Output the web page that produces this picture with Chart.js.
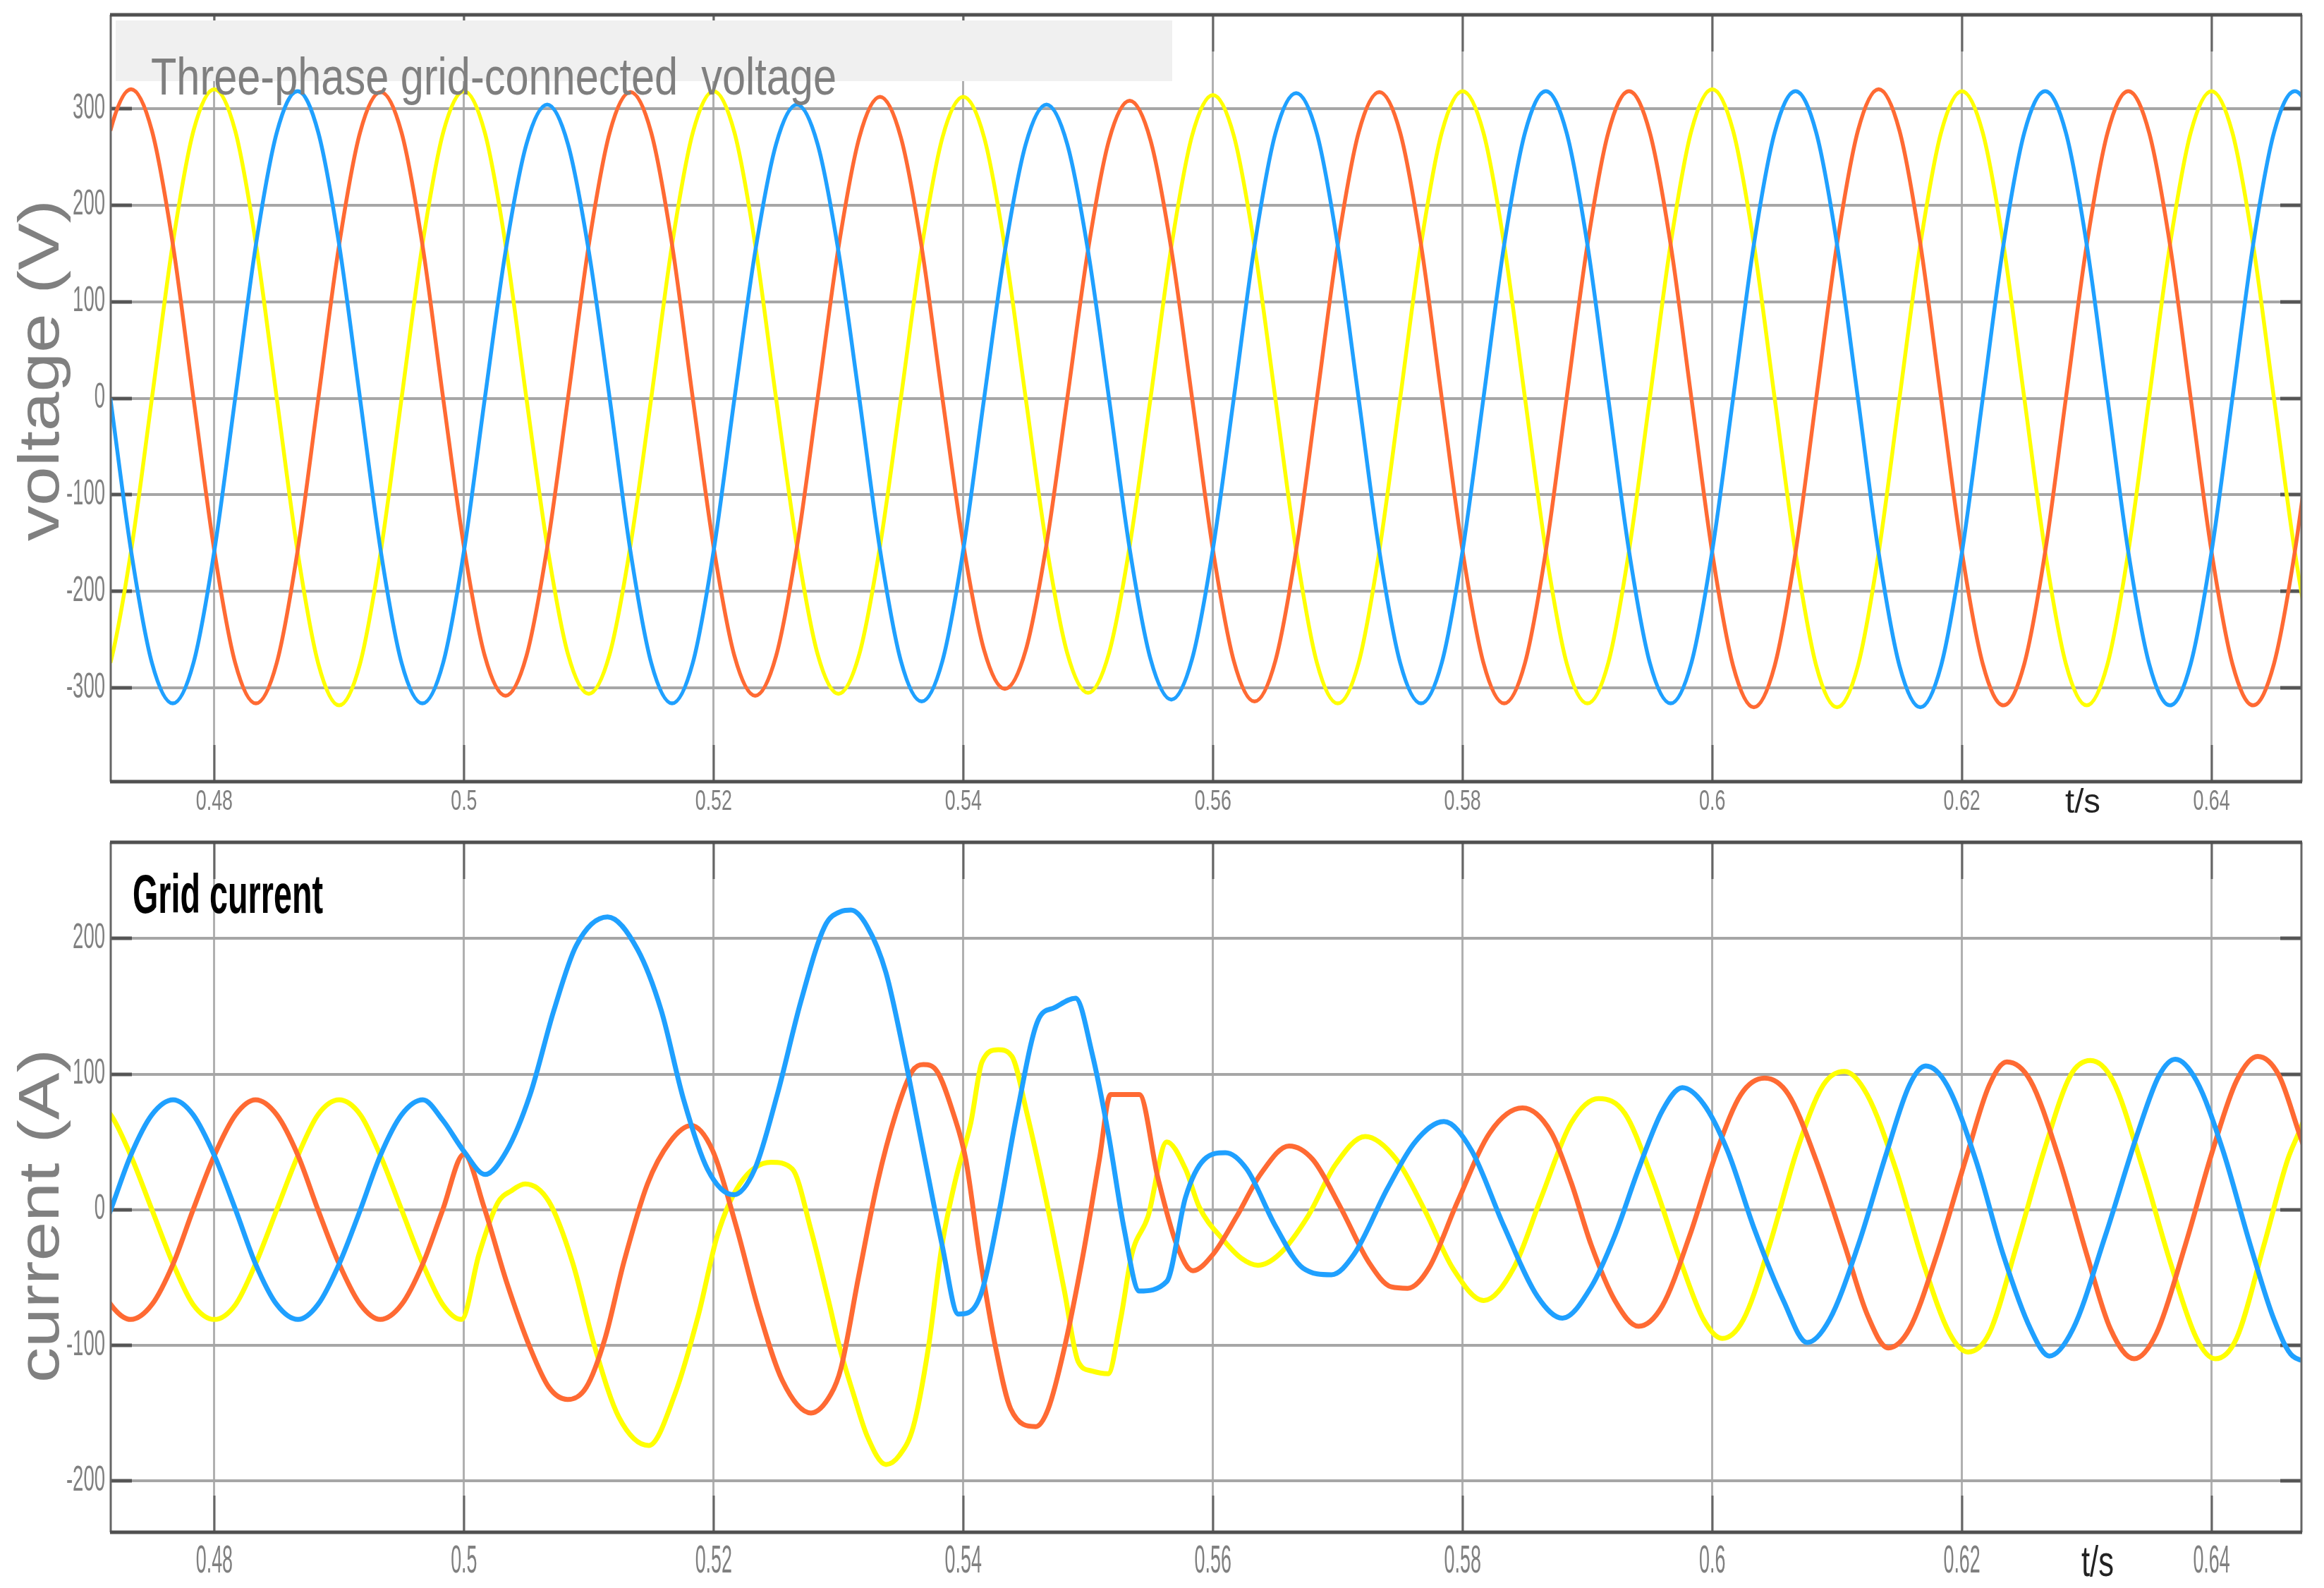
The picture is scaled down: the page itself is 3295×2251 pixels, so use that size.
<!DOCTYPE html>
<html><head><meta charset="utf-8">
<script src="https://cdn.jsdelivr.net/npm/chart.js@4.4.1/dist/chart.umd.min.js"></script>
<style>
html,body{margin:0;padding:0;background:#fff;}
#wrap{position:relative;width:3295px;height:2251px;overflow:hidden;background:#fff;}
canvas{position:absolute;left:0;}
#c1{top:0;}
#c2{top:1190px;}
</style></head><body>
<div id="wrap">
<canvas id="c1" width="3295" height="1190"></canvas>
<canvas id="c2" width="3295" height="1061"></canvas>
</div>
<script>
// ---------- axis ticks ----------
const timeTicks = [0.48,0.5,0.52,0.54,0.56,0.58,0.6,0.62,0.64];
const timeTickLabels = ['0.48','0.5','0.52','0.54','0.56','0.58','0.6','0.62','0.64'];
const voltTicks = [-300,-200,-100,0,100,200,300];
const voltTickLabels = ['-300','-200','-100','0','100','200','300'];
const currTicks = [-200,-100,0,100,200];
const currTickLabels = ['-200','-100','0','100','200'];

// ---------- voltage (V), sample times in s ----------
const voltTime = [
0.47000,0.47167,0.47333,0.47500,0.47667,0.47833,0.48000,0.48167,0.48333,0.48500,0.48667,0.48833,
0.49000,0.49167,0.49333,0.49500,0.49667,0.49833,0.50000,0.50167,0.50333,0.50500,0.50667,0.50833,
0.51000,0.51167,0.51333,0.51500,0.51667,0.51833,0.52000,0.52167,0.52333,0.52500,0.52667,0.52833,
0.53000,0.53167,0.53333,0.53500,0.53667,0.53833,0.54000,0.54167,0.54333,0.54500,0.54667,0.54833,
0.55000,0.55167,0.55333,0.55500,0.55667,0.55833,0.56000,0.56167,0.56333,0.56500,0.56667,0.56833,
0.57000,0.57167,0.57333,0.57500,0.57667,0.57833,0.58000,0.58167,0.58333,0.58500,0.58667,0.58833,
0.59000,0.59167,0.59333,0.59500,0.59667,0.59833,0.60000,0.60167,0.60333,0.60500,0.60667,0.60833,
0.61000,0.61167,0.61333,0.61500,0.61667,0.61833,0.62000,0.62167,0.62333,0.62500,0.62667,0.62833,
0.63000,0.63167,0.63333,0.63500,0.63667,0.63833,0.64000,0.64167,0.64333,0.64500,0.64667,0.64833,
0.65000];
const voltBlue = [
159,0,-158,-274,-316,-274,-158,0,159,275,318,275,
159,0,-158,-274,-316,-274,-158,0,152,263,304,263,
152,0,-158,-274,-316,-274,-158,0,152,263,304,263,
152,0,-157,-272,-314,-272,-157,0,152,263,304,263,
152,0,-156,-270,-312,-270,-156,0,158,274,316,274,
158,0,-158,-274,-316,-274,-158,0,159,275,318,275,
159,0,-158,-274,-316,-274,-158,0,159,275,318,275,
159,0,-160,-277,-320,-277,-160,0,159,275,318,275,
159,0,-159,-275,-318,-275,-159,0,159,275,318,275,
159];
const voltOrange = [
160,277,320,277,160,0,-158,-274,-316,-274,-158,0,
159,275,317,275,159,0,-154,-267,-308,-267,-154,0,
159,275,317,275,159,0,-154,-267,-308,-267,-154,0,
156,270,312,270,156,0,-151,-261,-301,-261,-151,0,
154,267,308,267,154,0,-157,-272,-314,-272,-157,0,
159,275,317,275,159,0,-158,-274,-316,-274,-158,0,
159,275,318,275,159,0,-160,-277,-320,-277,-160,0,
160,277,320,277,160,0,-159,-275,-318,-275,-159,0,
159,275,318,275,159,0,-159,-275,-318,-275,-159,0,
159];
const voltYellow = [
-316,-274,-158,0,160,277,320,277,160,0,-159,-275,
-318,-275,-159,0,159,275,318,275,159,0,-153,-265,
-306,-265,-153,0,159,275,318,275,159,0,-153,-265,
-306,-265,-153,0,156,270,312,270,156,0,-153,-264,
-305,-264,-153,0,157,272,314,272,157,0,-158,-274,
-316,-274,-158,0,159,275,318,275,159,0,-158,-274,
-316,-274,-158,0,160,277,320,277,160,0,-160,-277,
-320,-277,-160,0,159,275,318,275,159,0,-159,-275,
-318,-275,-159,0,159,275,318,275,159,0,-159,-275,
-318];

// ---------- grid current (A) ----------
const currBlueTime = [0.4700,0.4717,0.4733,0.4750,0.4767,0.4783,0.4800,0.4817,0.4833,0.4850,0.4867,0.4883,0.4900,0.4917,0.4933,0.4950,0.4967,0.4983,0.5000,0.5017,0.5034,0.5053,0.5072,0.5090,0.5115,0.5139,0.5158,0.5176,0.5195,0.5216,0.5233,0.5251,0.5270,0.5289,0.5302,0.5310,0.5323,0.5338,0.5353,0.5368,0.5383,0.5396,0.5404,0.5415,0.5428,0.5443,0.5460,0.5473,0.5490,0.5503,0.5516,0.5529,0.5541,0.5563,0.5578,0.5593,0.5610,0.5627,0.5650,0.5672,0.5695,0.5713,0.5740,0.5762,0.5785,0.5807,0.5833,0.5860,0.5880,0.5903,0.5922,0.5941,0.5960,0.5976,0.5993,0.6012,0.6034,0.6057,0.6076,0.6094,0.6117,0.6139,0.6158,0.6171,0.6188,0.6211,0.6233,0.6255,0.6270,0.6289,0.6315,0.6341,0.6358,0.6371,0.6388,0.6409,0.6431,0.6450,0.6465,0.6480];
const currBlue = [-40,0,40,70,81,70,40,0,-40,-70,-81,-70,-40,0,40,70,81,66,43,26,43,85,147,195,216,192,147,81,30,11,30,85,154,209,220,221,209,175,113,43,-26,-77,-76,-60,-5,71,140,149,156,116,57,-15,-60,-53,9,37,42,30,-12,-43,-48,-33,16,50,65,44,-12,-64,-80,-57,-19,30,73,90,78,44,-15,-67,-98,-81,-26,40,92,106,92,37,-33,-88,-108,-88,-19,57,99,111,95,44,-26,-81,-108,-112];

const currOrangeTime = [0.4700,0.4717,0.4733,0.4750,0.4767,0.4783,0.4800,0.4817,0.4833,0.4850,0.4867,0.4883,0.4900,0.4917,0.4933,0.4950,0.4967,0.4983,0.5000,0.5016,0.5034,0.5053,0.5068,0.5083,0.5098,0.5113,0.5128,0.5147,0.5165,0.5182,0.5199,0.5218,0.5236,0.5255,0.5278,0.5294,0.5302,0.5316,0.5331,0.5346,0.5359,0.5368,0.5379,0.5392,0.5402,0.5413,0.5426,0.5438,0.5458,0.5468,0.5481,0.5496,0.5509,0.5518,0.5541,0.5556,0.5571,0.5584,0.5600,0.5619,0.5638,0.5661,0.5680,0.5702,0.5725,0.5743,0.5756,0.5773,0.5796,0.5822,0.5848,0.5871,0.5887,0.5903,0.5922,0.5941,0.5960,0.5982,0.6004,0.6023,0.6042,0.6061,0.6083,0.6106,0.6124,0.6141,0.6158,0.6180,0.6203,0.6222,0.6236,0.6255,0.6278,0.6300,0.6319,0.6338,0.6356,0.6379,0.6401,0.6420,0.6437,0.6454,0.6470,0.6480];
const currOrange = [-40,-70,-81,-70,-40,0,40,70,81,70,40,0,-40,-70,-81,-70,-40,0,41,2,-53,-102,-131,-140,-131,-95,-39,19,50,62,44,-12,-74,-126,-150,-136,-117,-50,19,71,102,107,102,71,37,-33,-102,-147,-160,-147,-102,-33,37,85,85,23,-26,-45,-33,-5,26,47,37,2,-39,-57,-58,-43,6,57,75,57,20,-26,-67,-86,-71,-19,44,85,97,85,37,-26,-77,-102,-88,-33,37,92,109,95,37,-33,-88,-110,-91,-26,44,95,113,99,57,30];

const currYellowTime = [0.4700,0.4717,0.4733,0.4750,0.4767,0.4783,0.4800,0.4817,0.4833,0.4850,0.4867,0.4883,0.4900,0.4917,0.4933,0.4950,0.4967,0.4983,0.4998,0.5012,0.5027,0.5038,0.5049,0.5068,0.5087,0.5105,0.5124,0.5148,0.5169,0.5188,0.5203,0.5221,0.5246,0.5263,0.5278,0.5292,0.5301,0.5312,0.5323,0.5338,0.5349,0.5360,0.5372,0.5383,0.5394,0.5406,0.5415,0.5428,0.5439,0.5451,0.5466,0.5481,0.5492,0.5503,0.5516,0.5526,0.5535,0.5548,0.5563,0.5578,0.5589,0.5608,0.5623,0.5636,0.5653,0.5676,0.5698,0.5722,0.5747,0.5770,0.5792,0.5817,0.5841,0.5863,0.5887,0.5909,0.5930,0.5952,0.5975,0.5993,0.6008,0.6025,0.6046,0.6068,0.6089,0.6106,0.6124,0.6147,0.6169,0.6190,0.6205,0.6222,0.6244,0.6266,0.6287,0.6303,0.6321,0.6345,0.6367,0.6388,0.6403,0.6420,0.6442,0.6461,0.6470,0.6480];
const currYellow = [81,70,40,0,-40,-70,-81,-70,-40,0,40,70,81,70,40,0,-40,-70,-81,-33,5,14,19,6,-39,-102,-153,-174,-136,-77,-19,19,35,30,-15,-67,-102,-136,-167,-188,-181,-160,-102,-26,23,64,109,118,113,71,9,-60,-112,-119,-121,-81,-33,-5,50,30,2,-22,-36,-41,-33,-5,33,54,37,-1,-43,-67,-43,9,64,82,71,23,-39,-81,-95,-81,-26,44,92,102,85,30,-39,-91,-105,-91,-26,44,99,110,95,30,-39,-95,-110,-95,-26,37,57,80];

// ---------- styling ----------
const BLUE = '#1fa0ff', ORANGE = '#ff6a33', YELLOW = '#ffff00';
const SANS = "'Liberation Sans',Arial,'DejaVu Sans',sans-serif";
const X_MIN = 0.4717, X_MAX = 0.6472;

// Linear scale whose tick labels are drawn horizontally condensed (like the narrow labels of the original)
class CondensedLinearScale extends Chart.LinearScale {
  drawLabels(chartArea) {
    const sx = this.options.ticks.condense;
    if (!sx || typeof this.getLabelItems !== 'function') { return super.drawLabels(chartArea); }
    const ctx = this.ctx;
    const items = this.getLabelItems(chartArea);
    for (const item of items) {
      const o = item.options;
      ctx.save();
      ctx.translate(o.translation[0], o.translation[1]);
      if (o.rotation) { ctx.rotate(o.rotation); }
      ctx.scale(sx, 1);
      ctx.font = item.font.string;
      ctx.fillStyle = o.color;
      ctx.textAlign = o.textAlign;
      ctx.textBaseline = o.textBaseline;
      const lines = Array.isArray(item.label) ? item.label : [item.label];
      let y = item.textOffset;
      for (const ln of lines) { ctx.fillText(String(ln), 0, y); y += item.font.lineHeight; }
      ctx.restore();
    }
  }
}
CondensedLinearScale.id = 'condensedLinear';
CondensedLinearScale.defaults = Chart.LinearScale.defaults;
Chart.register(CondensedLinearScale);

function pts(xs, ys) { return xs.map((x, i) => ({x: x, y: ys[i]})); }
function lineDs(label, xs, ys, color, w) {
  return {label: label, data: pts(xs, ys), borderColor: color, backgroundColor: color,
          borderWidth: w, pointRadius: 0, fill: false, cubicInterpolationMode: 'monotone'};
}
function fitText(ctx, text, x, baseline, font, color, width, rot) {
  ctx.save();
  ctx.font = font; ctx.fillStyle = color; ctx.textAlign = 'left'; ctx.textBaseline = 'alphabetic';
  const w = ctx.measureText(text).width;
  ctx.translate(x, baseline);
  if (rot) { ctx.rotate(rot); }
  ctx.scale(width / w, 1); ctx.fillText(text, 0, 0);
  ctx.restore();
}
function noPad(s) { s.paddingTop = 0; s.paddingBottom = 0; s.paddingLeft = 0; s.paddingRight = 0; }

const framePlugin = {
  id: 'frame',
  beforeDatasetsDraw(chart) {
    const {ctx, chartArea: a, scales: {x, y}} = chart;
    ctx.save();
    ctx.strokeStyle = '#555'; ctx.lineCap = 'butt';
    ctx.lineWidth = 5;
    y.ticks.forEach(t => {
      const py = Math.round(y.getPixelForValue(t.value));
      ctx.beginPath(); ctx.moveTo(a.left, py); ctx.lineTo(a.left + 30, py);
      ctx.moveTo(a.right - 30, py); ctx.lineTo(a.right, py); ctx.stroke();
    });
    ctx.lineWidth = 3; ctx.strokeStyle = '#666';
    x.ticks.forEach(t => {
      const px = Math.round(x.getPixelForValue(t.value));
      ctx.beginPath(); ctx.moveTo(px, a.top); ctx.lineTo(px, a.top + 52);
      ctx.moveTo(px, a.bottom - 52); ctx.lineTo(px, a.bottom); ctx.stroke();
    });
    ctx.restore();
  },
  afterDatasetsDraw(chart) {
    const {ctx, chartArea: a} = chart;
    ctx.save();
    ctx.strokeStyle = '#666'; ctx.lineWidth = 3;
    ctx.beginPath(); ctx.moveTo(a.left, a.top); ctx.lineTo(a.left, a.bottom);
    ctx.moveTo(a.right, a.top); ctx.lineTo(a.right, a.bottom); ctx.stroke();
    ctx.strokeStyle = '#505050'; ctx.lineWidth = 5;
    ctx.beginPath(); ctx.moveTo(a.left - 1, a.top); ctx.lineTo(a.right + 1, a.top);
    ctx.moveTo(a.left - 1, a.bottom); ctx.lineTo(a.right + 1, a.bottom); ctx.stroke();
    ctx.restore();
  }
};

function baseOptions(cfg) {
  return {
    responsive: false, maintainAspectRatio: false, animation: false, events: [],
    layout: {padding: {top: cfg.padTop, right: 32, left: 0, bottom: 0}},
    plugins: {legend: {display: false}, tooltip: {enabled: false}, title: {display: false}},
    scales: {
      x: {
        type: 'condensedLinear', min: X_MIN, max: X_MAX,
        afterBuildTicks: s => { s.ticks = timeTicks.map(v => ({value: v})); },
        afterFit: s => { s.height = cfg.xAxisH; noPad(s); },
        grid: {color: '#b0b0b0', lineWidth: 3, drawTicks: false},
        border: {display: false},
        ticks: {autoSkip: false, maxRotation: 0, minRotation: 0, padding: cfg.xPad, condense: cfg.xCondense,
                color: '#808080', font: {family: SANS, size: cfg.xFont},
                callback: v => timeTickLabels[timeTicks.indexOf(v)]}
      },
      y: {
        type: 'condensedLinear', min: cfg.yMin, max: cfg.yMax,
        afterBuildTicks: s => { s.ticks = cfg.yTicks.map(v => ({value: v})); },
        afterFit: s => { s.width = 157; noPad(s); },
        grid: {color: '#a6a6a6', lineWidth: 4, drawTicks: false},
        border: {display: false},
        ticks: {autoSkip: false, padding: 8, condense: 0.55, color: '#808080', font: {family: SANS, size: 50},
                callback: v => cfg.yLabels[cfg.yTicks.indexOf(v)]}
      }
    }
  };
}

const voltPlugin = {
  id: 'voltText',
  afterDatasetsDraw(chart) {
    const ctx = chart.ctx;
    ctx.save(); ctx.fillStyle = '#f0f0f0'; ctx.fillRect(164, 29, 1498, 86); ctx.restore();
    fitText(ctx, 'Three-phase grid-connected  voltage', 214, 134, "75px " + SANS, '#7f7f7f', 972);
    fitText(ctx, 't/s', 2928, 1152, "48px " + SANS, '#222', 50);
    fitText(ctx, 'voltage (V)', 83, 767, "82px " + SANS, '#808080', 484, -Math.PI / 2);
  }
};
const currPlugin = {
  id: 'currText',
  afterDatasetsDraw(chart) {
    const ctx = chart.ctx;
    fitText(ctx, 'Grid current', 188, 104, "bold 78px " + SANS, '#000', 270);
    fitText(ctx, 't/s', 2951, 1044, "62px " + SANS, '#222', 46);
    fitText(ctx, 'current (A)', 83, 770, "82px " + SANS, '#808080', 473, -Math.PI / 2);
  }
};

new Chart(document.getElementById('c1'), {
  type: 'line',
  data: {datasets: [
    lineDs('Phase B', voltTime, voltBlue, BLUE, 5.5),
    lineDs('Phase A', voltTime, voltOrange, ORANGE, 5.5),
    lineDs('Phase C', voltTime, voltYellow, YELLOW, 5.5)
  ]},
  options: baseOptions({padTop: 21, xAxisH: 82, xPad: 5, xFont: 40, xCondense: 0.67, yMin: -397, yMax: 397,
                        yTicks: voltTicks, yLabels: voltTickLabels}),
  plugins: [framePlugin, voltPlugin]
});

new Chart(document.getElementById('c2'), {
  type: 'line',
  data: {datasets: [
    lineDs('Phase B', currBlueTime, currBlue, BLUE, 7),
    lineDs('Phase A', currOrangeTime, currOrange, ORANGE, 7),
    lineDs('Phase C', currYellowTime, currYellow, YELLOW, 7)
  ]},
  options: baseOptions({padTop: 4, xAxisH: 79, xPad: 8, xFont: 56, xCondense: 0.48, yMin: -238, yMax: 271,
                        yTicks: currTicks, yLabels: currTickLabels}),
  plugins: [framePlugin, currPlugin]
});
</script>
</body></html>
